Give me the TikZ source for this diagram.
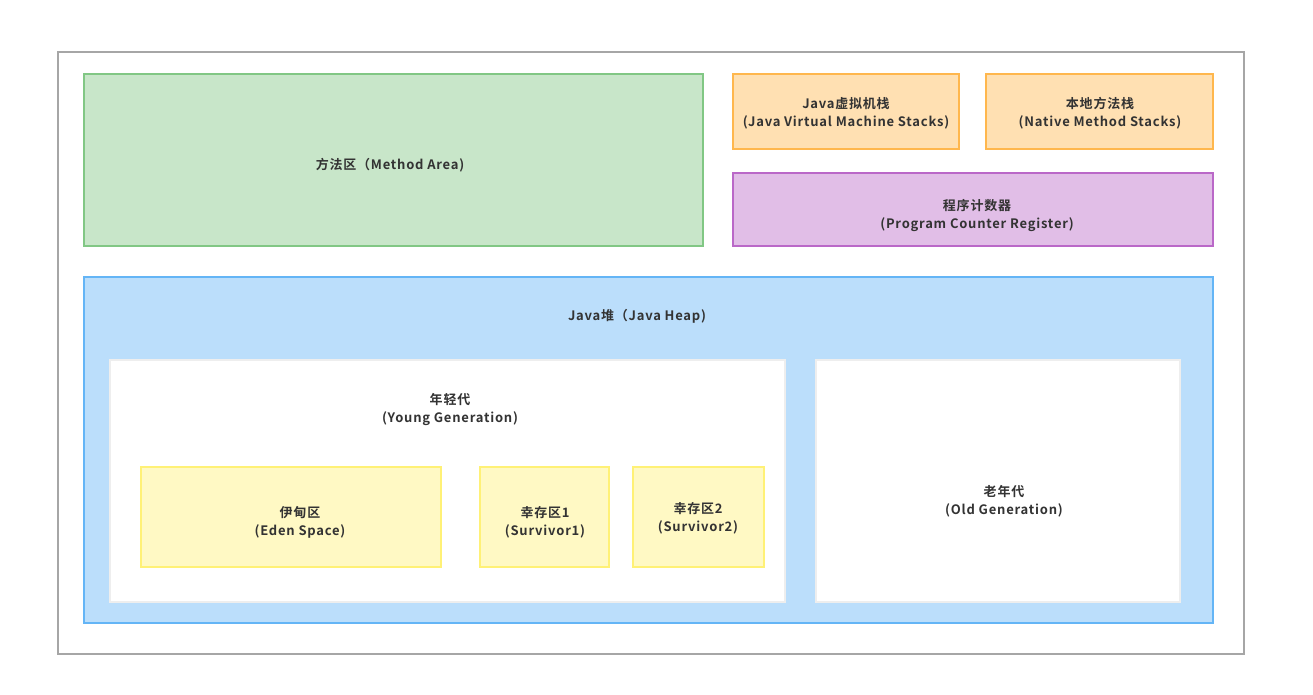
\documentclass[tikz,border=0pt]{standalone}
\usepackage{fontspec}
\setmainfont{Noto Sans CJK SC}[BoldFont={Noto Sans CJK SC Bold}]
\newfontfamily\cjk{Noto Sans CJK SC}[BoldFont={Noto Sans CJK SC Bold}, LetterSpace=6]
\definecolor{txt}{HTML}{333333}
\definecolor{outerc}{HTML}{A6A6A6}
\definecolor{greenf}{HTML}{C8E6C9}\definecolor{greend}{HTML}{81C784}
\definecolor{orangef}{HTML}{FFE0B2}\definecolor{oranged}{HTML}{FFB74D}
\definecolor{purplef}{HTML}{E1BEE7}\definecolor{purpled}{HTML}{BA68C8}
\definecolor{bluef}{HTML}{BBDEFB}\definecolor{blued}{HTML}{64B5F6}
\definecolor{yellowf}{HTML}{FFF9C4}\definecolor{yellowd}{HTML}{FFF176}
\definecolor{whited}{HTML}{EEEEEE}
\tikzset{
  box/.style={line width=1.5pt},
  lbl/.style={text=txt, font=\cjk\bfseries\fontsize{13}{18}\selectfont, align=center, inner sep=0pt},
}
\begin{document}
\begin{tikzpicture}[x=1pt,y=-1pt]
\useasboundingbox (0,0) rectangle (1313,694);
\fill[white] (0,0) rectangle (1313,694);
\draw[box, draw=outerc] (58,52) rectangle (1244,654);
% method area
\draw[box, draw=greend, fill=greenf] (84,74) rectangle (703,246);
\node[lbl] (ma) at (390,165) {方法区（Method Area)};
% stacks
\draw[box, draw=oranged, fill=orangef] (733,74) rectangle (959,149);
\node[lbl] (jvms) at (846,113) {Java虚拟机栈\\(Java Virtual Machine Stacks)};
\draw[box, draw=oranged, fill=orangef] (986,74) rectangle (1213,149);
\node[lbl] (nms) at (1100,113) {本地方法栈\\(Native Method Stacks)};
% pc
\draw[box, draw=purpled, fill=purplef] (733,173) rectangle (1213,246);
\node[lbl] (pc) at (977,215) {程序计数器\\(Program Counter Register)};
% heap
\draw[box, draw=blued, fill=bluef] (84,277) rectangle (1213,623);
\node[lbl] (heap) at (637,316) {Java堆（Java Heap)};
% young
\draw[box, draw=whited, fill=white] (110,360) rectangle (785,602);
\node[lbl] (young) at (450,410) {年轻代\\(Young Generation)};
\draw[box, draw=yellowd, fill=yellowf] (141,467) rectangle (441,567);
\node[lbl] (eden) at (300,522) {伊甸区\\(Eden Space)};
\draw[box, draw=yellowd, fill=yellowf] (480,467) rectangle (609,567);
\node[lbl] (s1) at (545,522) {幸存区1\\(Survivor1)};
\draw[box, draw=yellowd, fill=yellowf] (633,467) rectangle (764,567);
\node[lbl] (s2) at (698,518) {幸存区2\\(Survivor2)};
% old
\draw[box, draw=whited, fill=white] (816,360) rectangle (1180,602);
\node[lbl] (old) at (1004,501) {老年代\\(Old Generation)};
\end{tikzpicture}
\end{document}
